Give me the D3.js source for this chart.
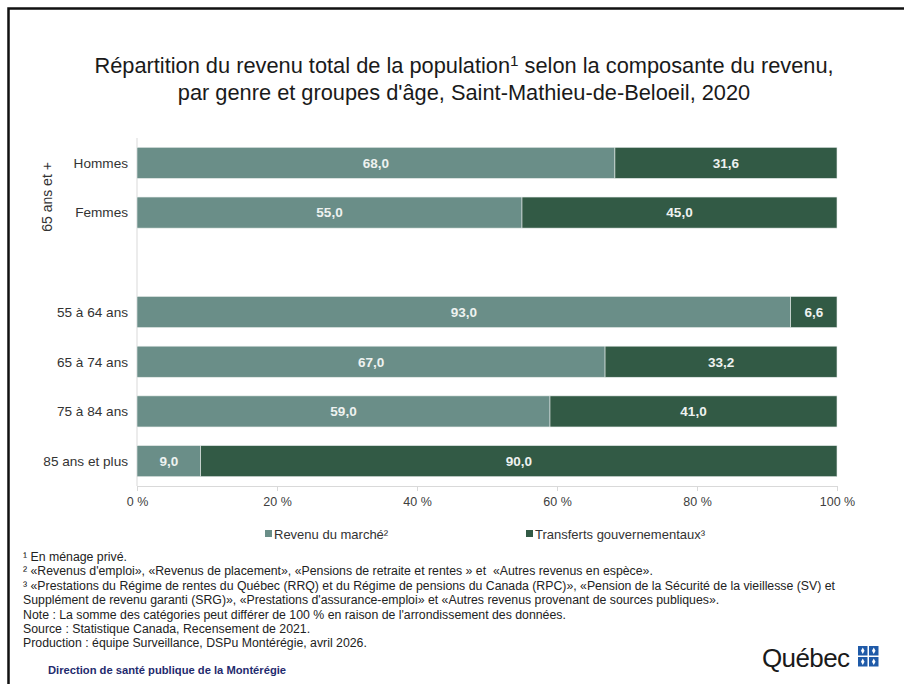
<!DOCTYPE html>
<html>
<head>
<meta charset="utf-8">
<script src="https://cdn.jsdelivr.net/npm/d3@7/dist/d3.min.js"></script>
<style>
  html, body { margin: 0; padding: 0; background: #ffffff; }
  svg { display: block; }
  text { font-family: "Liberation Sans", Arial, sans-serif; }
</style>
</head>
<body>
<div id="chart"></div>
<script>
// ---- Data ----
const categories = ["Hommes", "Femmes", " ", "55 à 64 ans", "65 à 74 ans", "75 à 84 ans", "85 ans et plus"];
const marche     = [68.0, 55.0, null, 93.0, 67.0, 59.0, 9.0];
const transferts = [31.6, 45.0, null, 6.6, 33.2, 41.0, 90.0];
const seriesNames = ["Revenu du marché²", "Transferts gouvernementaux³"];
const tickValues = [0, 0.2, 0.4, 0.6, 0.8, 1];
const tickLabels = ["0 %", "20 %", "40 %", "60 %", "80 %", "100 %"];
const groupLabel = "65 ans et +";
const footnotes = [
  "¹ En ménage privé.",
  "² «Revenus d'emploi», «Revenus de placement», «Pensions de retraite et rentes » et  «Autres revenus en espèce».",
  "³ «Prestations du Régime de rentes du Québec (RRQ) et du Régime de pensions du Canada (RPC)», «Pension de la Sécurité de la vieillesse (SV) et",
  "Supplément de revenu garanti (SRG)», «Prestations d'assurance-emploi» et «Autres revenus provenant de sources publiques».",
  "Note : La somme des catégories peut différer de 100 % en raison de l'arrondissement des données.",
  "Source : Statistique Canada, Recensement de 2021.",
  "Production : équipe Surveillance, DSPu Montérégie, avril 2026."
];

const W = 904, H = 684;
const colors = ["#6a8e88", "#325a45"];

const svg = d3.select("#chart").append("svg").attr("width", W).attr("height", H);

// Frame
svg.append("rect").attr("x", 8.5).attr("y", 8.5).attr("width", 1200).attr("height", 1200)
  .attr("fill", "none").attr("stroke", "#111").attr("stroke-width", 2.5);

// Title
const title = svg.append("text").attr("text-anchor", "middle").attr("fill", "#1a1a1a").attr("font-size", 21.8);
const t1 = title.append("tspan").attr("x", 464).attr("y", 73);
t1.append("tspan").text("Répartition du revenu total de la population");
t1.append("tspan").attr("font-size", "0.7em").attr("dy", -7).text("1");
t1.append("tspan").attr("dy", 7).text(" selon la composante du revenu,");
title.append("tspan").attr("x", 464).attr("y", 100).text("par genre et groupes d'âge, Saint-Mathieu-de-Beloeil, 2020");

// Scales
const x = d3.scaleLinear().domain([0, 1]).range([137, 837]);
const y = d3.scaleBand().domain(categories).range([138, 486]).paddingInner(0.375).paddingOuter(0.1875);

const rows = categories.map((c, i) => ({ cat: c, marche: marche[i], transferts: transferts[i] }))
  .filter(d => d.marche != null);
const stack = d3.stack().keys(["marche", "transferts"]).offset(d3.stackOffsetExpand);
const stacked = stack(rows);

// Axes lines
svg.append("line").attr("x1", x(0)).attr("x2", x(0)).attr("y1", 138).attr("y2", 486)
  .attr("stroke", "#d9d9d9").attr("stroke-width", 1);

const xAxis = svg.append("g").attr("transform", "translate(0,486)")
  .call(d3.axisBottom(x).tickValues(tickValues).tickFormat((d, i) => tickLabels[i]).tickSize(5).tickPadding(6));
xAxis.selectAll("path, line").attr("stroke", "#d9d9d9");
xAxis.selectAll("text").attr("font-family", "Liberation Sans, Arial, sans-serif").attr("font-size", 12.5).attr("fill", "#404040");

// Bars
const g = svg.append("g");
stacked.forEach((s, si) => {
  g.selectAll(null).data(s).enter().append("rect")
    .attr("x", d => x(d[0]))
    .attr("y", d => y(d.data.cat))
    .attr("width", d => x(d[1]) - x(d[0]))
    .attr("height", y.bandwidth())
    .attr("fill", colors[si])
    .attr("stroke", "#e6ecea").attr("stroke-width", 0.6);
  g.selectAll(null).data(s).enter().append("text")
    .attr("x", d => (x(d[0]) + x(d[1])) / 2)
    .attr("y", d => y(d.data.cat) + y.bandwidth() / 2)
    .attr("dy", "0.36em")
    .attr("text-anchor", "middle")
    .attr("font-size", 13.5).attr("font-weight", "bold").attr("fill", "#eef2f0")
    .text(d => d3.format(".1f")(d.data[s.key]).replace(".", ","));
});

// Category labels
svg.append("g").selectAll("text").data(rows).enter().append("text")
  .attr("x", 128).attr("y", d => y(d.cat) + y.bandwidth() / 2).attr("dy", "0.36em")
  .attr("text-anchor", "end").attr("font-size", 13.6).attr("fill", "#333")
  .text(d => d.cat);

// Group label
svg.append("text").attr("transform", "translate(52,197) rotate(-90)")
  .attr("text-anchor", "middle").attr("font-size", 14).attr("fill", "#333").text(groupLabel);

// Legend
const legX = [265, 526];
seriesNames.forEach((n, i) => {
  svg.append("rect").attr("x", legX[i]).attr("y", 530).attr("width", 7).attr("height", 7).attr("fill", colors[i]);
  svg.append("text").attr("x", legX[i] + 9).attr("y", 538.5).attr("font-size", 13).attr("fill", "#333").text(n);
});

// Footnotes
svg.append("g").selectAll("text").data(footnotes).enter().append("text")
  .attr("x", 23).attr("y", (d, i) => 561 + i * 14.4)
  .attr("font-size", 12.3).attr("fill", "#222").attr("xml:space", "preserve")
  .style("white-space", "pre")
  .text(d => d);

// Bottom label
svg.append("text").attr("x", 48).attr("y", 674).attr("font-size", 11.2).attr("font-weight", "bold")
  .attr("fill", "#1f2b6e").text("Direction de santé publique de la Montérégie");

// Québec logo
svg.append("text").attr("x", 762).attr("y", 667).attr("font-size", 26).attr("fill", "#1a1a1a")
  .attr("font-family", "DejaVu Sans, sans-serif").attr("letter-spacing", -0.6).text("Québec");
const flag = svg.append("g").attr("transform", "translate(858,646)");
[[0,0],[11,0],[0,11],[11,11]].forEach(p => {
  flag.append("rect").attr("x", p[0]).attr("y", p[1]).attr("width", 9.5).attr("height", 9.5).attr("fill", "#1f5aa8");
  flag.append("path").attr("d", `M${p[0]+4.75},${p[1]+1.5} L${p[0]+6.5},${p[1]+4.75} L${p[0]+4.75},${p[1]+8} L${p[0]+3},${p[1]+4.75} Z`)
    .attr("fill", "#fff");
});
</script>
</body>
</html>
